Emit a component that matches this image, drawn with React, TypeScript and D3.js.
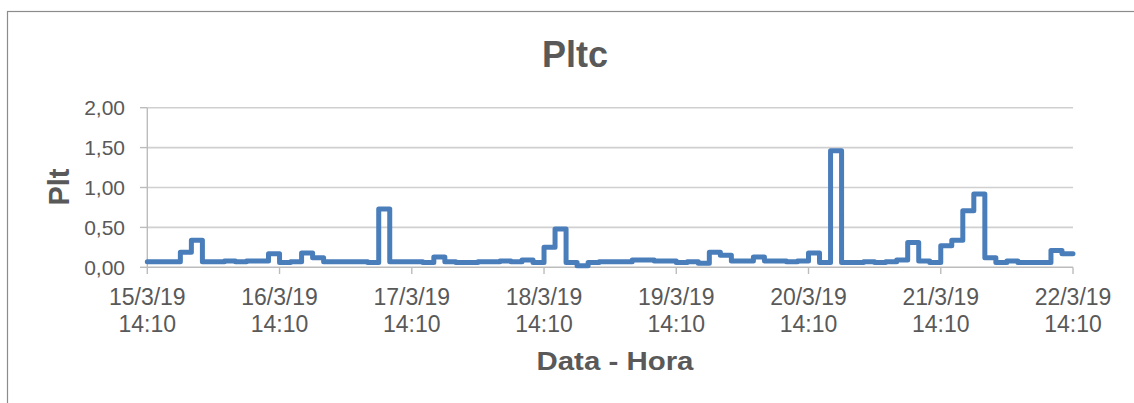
import React from "react";
import * as d3 from "d3";

// ---- data ----
const startTime = "2019-03-15T14:10:00Z";
const stepHours = 2;
const pltValues: number[] = [
  0.07, 0.07, 0.07, 0.19, 0.34, 0.07, 0.07, 0.08, 0.07, 0.08, 0.08, 0.17,
  0.06, 0.07, 0.18, 0.12, 0.07, 0.07, 0.07, 0.07, 0.06, 0.73, 0.07, 0.07,
  0.07, 0.06, 0.13, 0.07, 0.06, 0.06, 0.07, 0.07, 0.08, 0.07, 0.09, 0.06,
  0.25, 0.48, 0.06, 0.02, 0.06, 0.07, 0.07, 0.07, 0.09, 0.09, 0.08, 0.08,
  0.06, 0.07, 0.05, 0.19, 0.15, 0.08, 0.08, 0.13, 0.08, 0.08, 0.07, 0.08,
  0.18, 0.06, 1.46, 0.06, 0.06, 0.07, 0.06, 0.07, 0.09, 0.31, 0.08, 0.06,
  0.27, 0.34, 0.71, 0.92, 0.12, 0.06, 0.08, 0.06, 0.06, 0.06, 0.21, 0.17,
];
const yTickValues = [0, 0.5, 1, 1.5, 2];
const xTickDays = 7;
const chartTitle = "Pltc";
const xAxisTitle = "Data - Hora";
const yAxisTitle = "Plt";

const W = 1134;
const H = 403;
const M = { left: 147.3, right: 1073, top: 107.7, bottom: 267.3 };

const locale = d3.formatLocale({
  decimal: ",",
  thousands: ".",
  grouping: [3],
  currency: ["", ""],
});
const fmtY = locale.format(".2f");
const fmtDate = d3.utcFormat("%-d/%-m/%y");
const fmtTime = d3.utcFormat("%H:%M");

export default function App() {
  const t0 = new Date(startTime);
  const t1 = d3.utcDay.offset(t0, xTickDays);
  const x = d3.scaleUtc().domain([t0, t1]).range([M.left, M.right]);
  const y = d3.scaleLinear().domain([0, 2]).range([M.bottom, M.top]);

  const pts = pltValues.map((v, i) => ({
    t: d3.utcHour.offset(t0, i * stepHours),
    v,
  }));
  pts.push({ t: t1, v: pltValues[pltValues.length - 1] });

  const line = d3
    .line<{ t: Date; v: number }>()
    .x((d) => x(d.t))
    .y((d) => y(d.v))
    .curve(d3.curveStepAfter);

  const xTicks = d3.range(xTickDays + 1).map((d) => d3.utcDay.offset(t0, d));
  const textColor = "#595959";
  const font = "'Liberation Sans', Arial, sans-serif";

  return (
    <div style={{ position: "absolute", left: 0, top: 0 }}>
      <svg width={W} height={H} style={{ display: "block", background: "#fff" }}>
        <rect x={7.5} y={11.5} width={W + 20} height={H + 20} fill="#fff" stroke="#8c8c8c" strokeWidth={1.2} />
        <text x={575} y={66.5} textAnchor="middle" fontFamily={font} fontWeight="bold" fontSize={36} fill={textColor}>
          {chartTitle}
        </text>
        {/* gridlines + y ticks */}
        {yTickValues.map((v) => (
          <g key={v}>
            {v > 0 && (
              <line x1={M.left} x2={M.right} y1={y(v)} y2={y(v)} stroke="#d0d0d0" strokeWidth={1.6} />
            )}
            <line x1={140} x2={M.left} y1={y(v)} y2={y(v)} stroke="#bcbcbc" strokeWidth={1.4} />
            <text x={125} y={y(v)} dy="0.35em" textAnchor="end" fontFamily={font} fontSize={21} fill={textColor}>
              {fmtY(v)}
            </text>
          </g>
        ))}
        <line x1={M.left} x2={M.left} y1={M.top} y2={M.bottom} stroke="#bcbcbc" strokeWidth={1.4} />
        {/* x axis */}
        <line x1={M.left} x2={M.right} y1={M.bottom} y2={M.bottom} stroke="#bcbcbc" strokeWidth={1.6} />
        {xTicks.map((t, i) => (
          <g key={i}>
            <line x1={x(t)} x2={x(t)} y1={M.bottom} y2={274} stroke="#bcbcbc" strokeWidth={1.4} />
            <text x={x(t)} y={305} textAnchor="middle" fontFamily={font} fontSize={23} fill={textColor}>
              {fmtDate(t)}
            </text>
            <text x={x(t)} y={331.5} textAnchor="middle" fontFamily={font} fontSize={23} fill={textColor}>
              {fmtTime(t)}
            </text>
          </g>
        ))}
        <path d={line(pts) || ""} fill="none" stroke="#4a7ebb" strokeWidth={5} strokeLinejoin="round" strokeLinecap="round" />
        <text x={615} y={370} textAnchor="middle" fontFamily={font} fontWeight="bold" fontSize={26} fill={textColor} textLength={157} lengthAdjust="spacingAndGlyphs">
          {xAxisTitle}
        </text>
        <text transform="translate(69,187) rotate(-90)" textAnchor="middle" fontFamily={font} fontWeight="bold" fontSize={29} fill={textColor}>
          {yAxisTitle}
        </text>
      </svg>
    </div>
  );
}
